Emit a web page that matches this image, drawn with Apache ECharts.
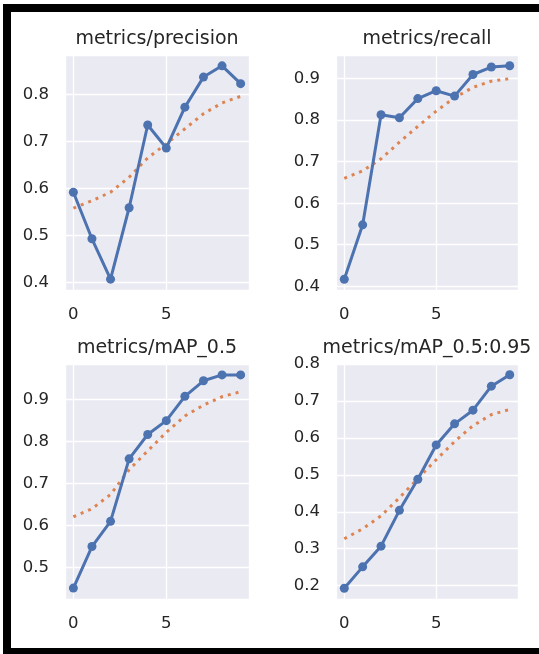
<!DOCTYPE html>
<html>
<head>
<meta charset="utf-8">
<script src="https://cdn.jsdelivr.net/npm/echarts@6/dist/echarts.min.js"></script>
<style>
  html, body { margin: 0; padding: 0; background: #fff; }
  #chart { width: 539px; height: 654px; }
</style>
</head>
<body>
<div id="chart"></div>
<script>
// epochs on the x axis
const epochs = [0, 1, 2, 3, 4, 5, 6, 7, 8, 9];

// raw values (blue) and smoothed (orange dotted)
const precision = [0.592, 0.493, 0.407, 0.559, 0.735, 0.686, 0.773, 0.837, 0.861, 0.823];
const precisionSmooth = [0.558, 0.574, 0.592, 0.624, 0.665, 0.695, 0.727, 0.759, 0.782, 0.796];

const recall = [0.417, 0.548, 0.813, 0.806, 0.852, 0.871, 0.858, 0.910, 0.928, 0.931];
const recallSmooth = [0.660, 0.678, 0.707, 0.747, 0.785, 0.822, 0.854, 0.879, 0.894, 0.900];

const map50 = [0.451, 0.550, 0.610, 0.759, 0.817, 0.850, 0.908, 0.945, 0.959, 0.959];
const map50Smooth = [0.621, 0.640, 0.674, 0.733, 0.778, 0.822, 0.861, 0.887, 0.907, 0.919];

const map5095 = [0.193, 0.251, 0.307, 0.404, 0.488, 0.581, 0.638, 0.675, 0.740, 0.771];
const map5095Smooth = [0.327, 0.354, 0.389, 0.438, 0.490, 0.541, 0.590, 0.633, 0.663, 0.677];

const titles = ["metrics/precision", "metrics/recall", "metrics/mAP_0.5", "metrics/mAP_0.5:0.95"];

const panels = [
  { raw: precision, smooth: precisionSmooth, left: 65, top: 55, width: 184 },
  { raw: recall, smooth: recallSmooth, left: 336, top: 55, width: 182 },
  { raw: map50, smooth: map50Smooth, left: 65, top: 364, width: 184 },
  { raw: map5095, smooth: map5095Smooth, left: 336, top: 364, width: 182 }
];

const textColor = "#262626";
const font = "DejaVu Sans";

const pts = (ys) => epochs.map((x, i) => [x, ys[i]]);
const isRound = (v, step) => Math.abs(v / step - Math.round(v / step)) < 1e-6;

const grid = [], xAxis = [], yAxis = [], series = [], graphic = [];

panels.forEach((p, i) => {
  const all = p.raw.concat(p.smooth);
  const lo = Math.min(...all), hi = Math.max(...all);
  const pad = (hi - lo) * 0.05;
  const xPad = (epochs[epochs.length - 1] - epochs[0]) * 0.05;

  grid.push({
    left: p.left, top: p.top, width: p.width, height: 235,
    show: true, backgroundColor: "#EAEAF2", borderWidth: 0
  });
  xAxis.push({
    type: "value", gridIndex: i,
    min: epochs[0] - xPad, max: epochs[epochs.length - 1] + xPad,
    splitNumber: 2,
    axisLine: { show: false }, axisTick: { show: false },
    splitLine: { lineStyle: { color: "#fff", width: 1.3 } },
    axisLabel: {
      margin: 16, color: textColor, fontFamily: font, fontSize: 16.5,
      formatter: (v) => (isRound(v, 1) ? String(Math.round(v)) : "")
    }
  });
  yAxis.push({
    type: "value", gridIndex: i,
    min: Math.floor((lo - pad) * 1000) / 1000,
    max: Math.ceil((hi + pad) * 1000) / 1000,
    axisLine: { show: false }, axisTick: { show: false },
    splitLine: { lineStyle: { color: "#fff", width: 1.3 } },
    axisLabel: {
      margin: 16, color: textColor, fontFamily: font, fontSize: 16.5,
      formatter: (v) => (isRound(v, 0.1) ? v.toFixed(1) : "")
    }
  });
  series.push({
    type: "line", xAxisIndex: i, yAxisIndex: i,
    data: pts(p.raw),
    symbol: "circle", symbolSize: 9,
    itemStyle: { color: "#4C72B0" },
    lineStyle: { color: "#4C72B0", width: 3 },
    z: 3
  });
  series.push({
    type: "line", xAxisIndex: i, yAxisIndex: i,
    data: pts(p.smooth),
    symbol: "none",
    lineStyle: { color: "#DD8452", width: 3, type: [3, 5] },
    z: 2
  });
  graphic.push({
    type: "text",
    x: p.left + p.width / 2, y: p.top - 16,
    style: {
      text: titles[i], fill: textColor,
      font: "19px DejaVu Sans",
      align: "center", verticalAlign: "middle",
      textAlign: "center", textVerticalAlign: "middle"
    }
  });
});

// black frame around the picture
graphic.push({ type: "rect", shape: { x: 3, y: 4, width: 536, height: 8 }, style: { fill: "#000" } });
graphic.push({ type: "rect", shape: { x: 3, y: 4, width: 8, height: 650 }, style: { fill: "#000" } });
graphic.push({ type: "rect", shape: { x: 3, y: 648, width: 536, height: 6 }, style: { fill: "#000" } });

const myChart = echarts.init(document.getElementById("chart"));
myChart.setOption({
  animation: false,
  backgroundColor: "#fff",
  grid: grid,
  xAxis: xAxis,
  yAxis: yAxis,
  series: series,
  graphic: graphic
});
</script>
</body>
</html>
